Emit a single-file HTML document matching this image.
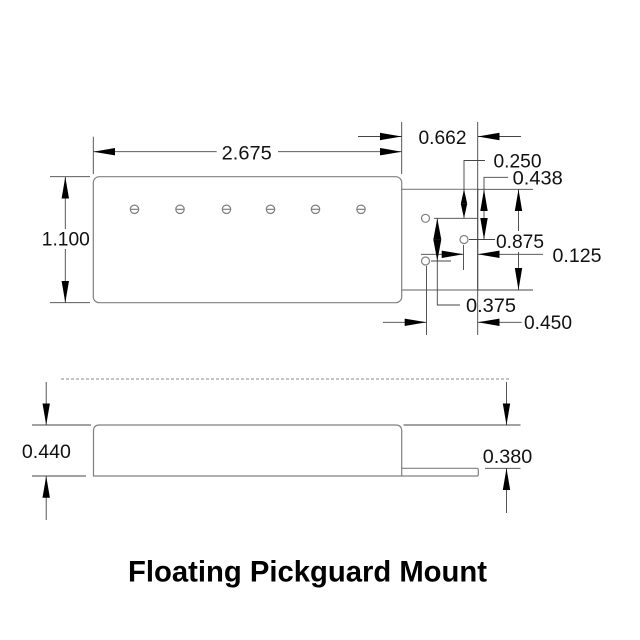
<!DOCTYPE html>
<html><head><meta charset="utf-8"><style>
html,body{margin:0;padding:0;background:#fff;}
svg{display:block;}
text{font-family:"Liberation Sans",Arial,sans-serif;fill:#111;}
</style></head><body>
<svg width="640" height="640" viewBox="0 0 640 640" xmlns="http://www.w3.org/2000/svg">
<rect width="640" height="640" fill="#fff"/>
<!-- shapes -->
<g fill="none" stroke="#808080" stroke-width="1.2">
  <rect x="93.3" y="176.7" width="308.4" height="126" rx="6"/>
  <path d="M401.7 189.3 H477.7 V290 H401.7"/>
  <circle cx="134.5" cy="209.3" r="4.2"/><line x1="130.3" y1="209.3" x2="138.7" y2="209.3"/>
  <circle cx="180" cy="209.3" r="4.2"/><line x1="175.8" y1="209.3" x2="184.2" y2="209.3"/>
  <circle cx="226.5" cy="209.3" r="4.2"/><line x1="222.3" y1="209.3" x2="230.7" y2="209.3"/>
  <circle cx="270.5" cy="209.3" r="4.2"/><line x1="266.3" y1="209.3" x2="274.7" y2="209.3"/>
  <circle cx="315.5" cy="209.3" r="4.2"/><line x1="311.3" y1="209.3" x2="319.7" y2="209.3"/>
  <circle cx="361" cy="209.3" r="4.2"/><line x1="356.8" y1="209.3" x2="365.2" y2="209.3"/>
  <circle cx="425.5" cy="218.3" r="4"/>
  <circle cx="464" cy="239.5" r="4"/>
  <circle cx="425.5" cy="261" r="4"/>
  <!-- side view -->
  <path d="M93.5 476 V431 Q93.5 425 99.5 425 H395.7 Q401.7 425 401.7 431 V476 Z"/>
  <path d="M401.7 468.3 H477 Q478.3 468.3 478.3 470 V474.5 Q478.3 476 477 476 H401.7"/>
</g>
<line x1="61" y1="379" x2="510" y2="379" stroke="#888" stroke-width="1" stroke-dasharray="3,2"/>
<!-- dimension / extension lines -->
<g fill="none" stroke="#444" stroke-width="0.9">
  <!-- 2.675 -->
  <line x1="93.3" y1="136.7" x2="93.3" y2="174"/>
  <line x1="401.7" y1="122" x2="401.7" y2="174"/>
  <line x1="93.3" y1="151.7" x2="216.7" y2="151.7"/>
  <line x1="278" y1="151.7" x2="401.7" y2="151.7"/>
  <!-- 0.662 -->
  <line x1="477.7" y1="122" x2="477.7" y2="335"/>
  <line x1="358" y1="136.5" x2="401.7" y2="136.5"/>
  <line x1="477.7" y1="136.5" x2="521" y2="136.5"/>
  <!-- 1.100 -->
  <line x1="50" y1="176.7" x2="90" y2="176.7"/>
  <line x1="50" y1="302.7" x2="90" y2="302.7"/>
  <line x1="65.3" y1="176.7" x2="65.3" y2="229"/>
  <line x1="65.3" y1="249" x2="65.3" y2="302.7"/>
  <!-- tab extensions -->
  <line x1="477.7" y1="189.3" x2="533" y2="189.3"/>
  <line x1="477.7" y1="290" x2="533" y2="290"/>
  <!-- 0.250 -->
  <polyline points="485,160.5 464,160.5 464,218.3"/>
  <line x1="434" y1="218.3" x2="477.7" y2="218.3"/>
  <!-- 0.438 -->
  <polyline points="508,177.3 484,177.3 484,239.5"/>
  <line x1="469" y1="239.5" x2="495" y2="239.5"/>
  <!-- 0.875 -->
  <line x1="518.5" y1="189.3" x2="518.5" y2="231"/>
  <line x1="518.5" y1="252" x2="518.5" y2="290"/>
  <!-- 0.125 -->
  <line x1="421" y1="254.3" x2="463.5" y2="254.3"/>
  <line x1="463.5" y1="245" x2="463.5" y2="270"/>
  <line x1="477.7" y1="254.3" x2="543" y2="254.3"/>
  <!-- 0.375 -->
  <line x1="431" y1="261" x2="451" y2="261"/>
  <polyline points="437.3,218.3 437.3,305 460,305"/>
  <!-- 0.450 -->
  <line x1="426.5" y1="266" x2="426.5" y2="335"/>
  <line x1="383" y1="322.3" x2="426.5" y2="322.3"/>
  <line x1="477.7" y1="322.3" x2="521.7" y2="322.3"/>
  <!-- 0.440 -->
  <line x1="32" y1="425" x2="91" y2="425"/>
  <line x1="32" y1="476" x2="86" y2="476"/>
  <line x1="46.2" y1="382" x2="46.2" y2="425"/>
  <line x1="46.2" y1="476" x2="46.2" y2="520"/>
  <!-- 0.380 -->
  <line x1="403.5" y1="425" x2="520.5" y2="425"/>
  <line x1="485" y1="468.3" x2="520.5" y2="468.3"/>
  <line x1="506.5" y1="382" x2="506.5" y2="425"/>
  <line x1="506.5" y1="468.3" x2="506.5" y2="513"/>
</g>
<!-- arrowheads -->
<g fill="#000" stroke="none">
  <!-- 2.675 -->
  <polygon points="93.3,151.7 115,148 115,155.4"/>
  <polygon points="401.7,151.7 380,148 380,155.4"/>
  <!-- 0.662 -->
  <polygon points="401.7,136.5 380,132.8 380,140.2"/>
  <polygon points="477.7,136.5 499.5,132.8 499.5,140.2"/>
  <!-- 1.100 -->
  <polygon points="65.3,176.7 61.6,198.5 69,198.5"/>
  <polygon points="65.3,302.7 61.6,281 69,281"/>
  <!-- 0.250 -->
  <polygon points="464,189.3 460.8,203.8 467.2,203.8"/>
  <polygon points="464,218.3 460.8,203.8 467.2,203.8"/>
  <!-- 0.438 -->
  <polygon points="484,189.3 480.3,211 487.7,211"/>
  <polygon points="484,239.5 480.3,218 487.7,218"/>
  <!-- 0.875 -->
  <polygon points="518.5,189.3 514.8,211 522.2,211"/>
  <polygon points="518.5,290 514.8,268 522.2,268"/>
  <!-- 0.125 -->
  <polygon points="463.5,254.3 441.7,250.6 441.7,258"/>
  <polygon points="477.7,254.3 499.5,250.6 499.5,258"/>
  <!-- 0.375 -->
  <polygon points="437.3,218.3 433.3,239.6 441.3,239.6"/>
  <polygon points="437.3,261 433.3,239.6 441.3,239.6"/>
  <!-- 0.450 -->
  <polygon points="426.5,322.3 404.7,318.6 404.7,326"/>
  <polygon points="477.7,322.3 499.5,318.6 499.5,326"/>
  <!-- 0.440 -->
  <polygon points="46.2,425 42.5,403.5 49.9,403.5"/>
  <polygon points="46.2,476 42.5,497.7 49.9,497.7"/>
  <!-- 0.380 -->
  <polygon points="506.5,425 502.8,403.5 510.2,403.5"/>
  <polygon points="506.5,468.3 502.8,490 510.2,490"/>
</g>
<!-- labels -->
<g font-size="19" text-anchor="middle">
  <text x="246.7" y="159.5" textLength="50" lengthAdjust="spacingAndGlyphs">2.675</text>
  <text x="65.8" y="245.6" textLength="48" lengthAdjust="spacingAndGlyphs">1.100</text>
  <text x="442.5" y="143.8" textLength="48" lengthAdjust="spacingAndGlyphs">0.662</text>
  <text x="517.5" y="167.5" textLength="48" lengthAdjust="spacingAndGlyphs">0.250</text>
  <text x="537.7" y="184.5" textLength="50" lengthAdjust="spacingAndGlyphs">0.438</text>
  <text x="520" y="248.1" textLength="48" lengthAdjust="spacingAndGlyphs">0.875</text>
  <text x="577" y="262.1" textLength="49" lengthAdjust="spacingAndGlyphs">0.125</text>
  <text x="491" y="312.1" textLength="50" lengthAdjust="spacingAndGlyphs">0.375</text>
  <text x="548" y="328.8" textLength="48" lengthAdjust="spacingAndGlyphs">0.450</text>
  <text x="46.4" y="457.8" textLength="49" lengthAdjust="spacingAndGlyphs">0.440</text>
  <text x="507.5" y="463" textLength="49.5" lengthAdjust="spacingAndGlyphs">0.380</text>
</g>
<text x="128" y="581.5" font-size="30" font-weight="bold" textLength="359" lengthAdjust="spacingAndGlyphs" style="fill:#000">Floating Pickguard Mount</text>
</svg>
</body></html>
